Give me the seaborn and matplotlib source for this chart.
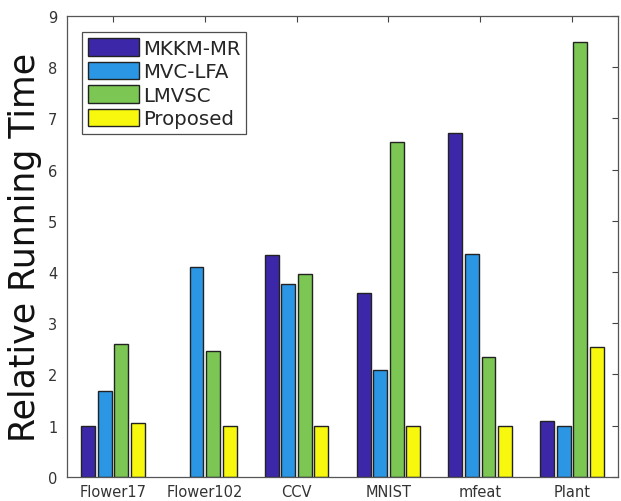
import numpy as np
import pandas as pd
import matplotlib
matplotlib.use("Agg")
import matplotlib.pyplot as plt
import seaborn as sns

datasets = ["Flower17", "Flower102", "CCV", "MNIST", "mfeat", "Plant"]
methods = ["MKKM-MR", "MVC-LFA", "LMVSC", "Proposed"]
mkkm_mr = [1.00, np.nan, 4.33, 3.59, 6.72, 1.09]
mvc_lfa = [1.68, 4.09, 3.76, 2.08, 4.35, 1.00]
lmvsc = [2.60, 2.45, 3.96, 6.54, 2.35, 8.49]
proposed = [1.05, 1.00, 1.00, 1.00, 1.00, 2.53]
colors = ["#3b27a8", "#2b96e4", "#7cc653", "#f8f80e"]
yticks = list(range(0, 10))

df = pd.DataFrame({
    "Dataset": datasets * 4,
    "Method": [m for m in methods for _ in datasets],
    "Value": mkkm_mr + mvc_lfa + lmvsc + proposed,
})

sns.set_theme(style="white")
plt.rcParams['font.family'] = ['DejaVu Sans']

fig = plt.figure(figsize=(6.21, 5.02), dpi=100)
ax = fig.add_axes([0.108, 0.048, 0.887, 0.918])

sns.barplot(data=df, x="Dataset", y="Value", hue="Method", order=datasets,
            hue_order=methods, palette=colors, width=0.72, gap=0.16,
            edgecolor="#222222", linewidth=1.0, errorbar=None, ax=ax,
            saturation=1)

ax.set_xlim(-0.5, 5.5)
ax.set_ylim(0, 9)
ax.set_yticks(yticks)
ax.set_yticklabels([str(t) for t in yticks])
ax.set_xlabel("")
ax.set_ylabel("Relative Running Time", fontsize=25, color="#111111", labelpad=4)

ax.tick_params(axis="both", direction="in", top=True, right=True, length=4,
               width=0.8, color="#444444", labelsize=10.5, labelcolor="#333333")
ax.tick_params(axis="x", pad=5)
ax.tick_params(axis="y", pad=7)
for s in ax.spines.values():
    s.set_visible(True)
    s.set_color("#555555")
    s.set_linewidth(0.9)

handles, labels = ax.get_legend_handles_labels()
if ax.get_legend() is not None:
    ax.get_legend().remove()
leg = ax.legend(handles, labels, loc="upper left", bbox_to_anchor=(0.028, 0.965),
                fontsize=14.2, frameon=True, fancybox=False, handlelength=2.55,
                handleheight=1.0, handletextpad=0.2, labelspacing=0.2,
                borderpad=0.3, borderaxespad=0.0)
leg.get_frame().set_edgecolor("#222222")
leg.get_frame().set_linewidth(0.9)

fig.savefig("out.png", dpi=100)
